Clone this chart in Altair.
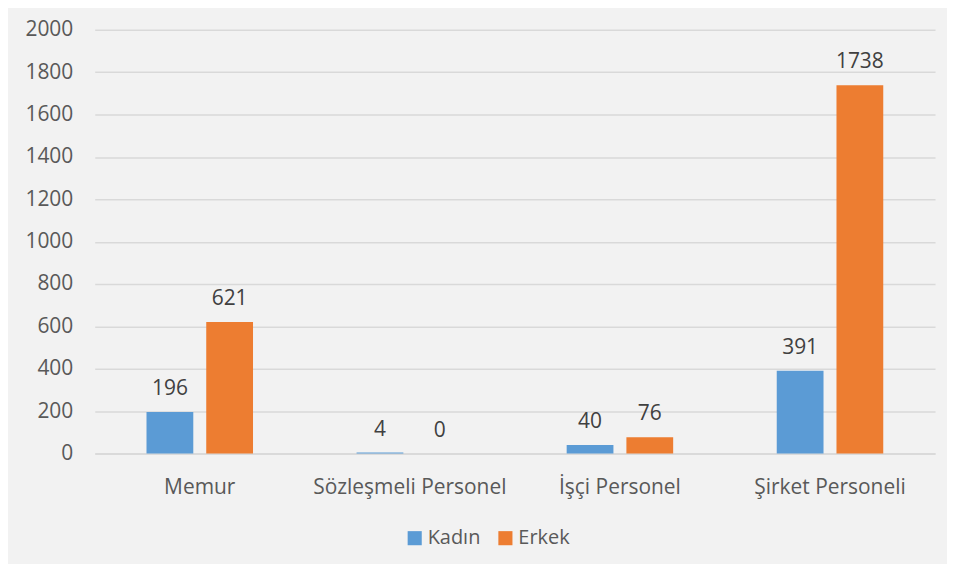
import altair as alt
import pandas as pd

categories = ["Memur", "Sözleşmeli Personel", "İşçi Personel", "Şirket Personeli"]
series = ["Kadın", "Erkek"]
kadin = [196, 4, 40, 391]
erkek = [621, 0, 76, 1738]
colors = ["#5B9BD5", "#ED7D31"]
y_ticks = list(range(0, 2001, 200))

rows = []
for c, k, e in zip(categories, kadin, erkek):
    rows.append({"cat": c, "series": "Kadın", "value": k})
    rows.append({"cat": c, "series": "Erkek", "value": e})
df = pd.DataFrame(rows)

FONT = "Open Sans"
FS = 21

x = alt.X("cat:N", sort=categories, title=None,
          scale=alt.Scale(paddingInner=0, paddingOuter=0),
          axis=alt.Axis(labelAngle=0, labelFontSize=FS, labelColor="#595959",
                        labelFont=FONT, ticks=False, domain=True, labelLimit=400,
                        domainColor="#D9D9D9", domainWidth=1.5, labelPadding=23,
                        grid=False))
xo = alt.XOffset("series:N", sort=series,
                 scale=alt.Scale(paddingInner=0.217, paddingOuter=0.867))
y = alt.Y("value:Q", title=None,
          scale=alt.Scale(domain=[0, 2000], nice=False),
          axis=alt.Axis(values=y_ticks, format="d", labelFontSize=FS, labelColor="#595959",
                        labelFont=FONT, ticks=False, domain=False,
                        gridColor="#D9D9D9", gridWidth=1.5, labelPadding=22))

base = alt.Chart(df)
bars = base.mark_bar().encode(
    x=x, xOffset=xo, y=y,
    color=alt.Color("series:N", sort=series,
                    scale=alt.Scale(domain=series, range=colors),
                    legend=alt.Legend(title=None, orient="none", direction="horizontal",
                                      legendX=311, legendY=500,
                                      labelFontSize=20, labelFont=FONT,
                                      labelColor="#595959", symbolType="square",
                                      symbolSize=200, symbolStrokeWidth=0,
                                      columnPadding=15, labelOffset=3)),
)
labels = base.mark_text(baseline="bottom", dy=-13, fontSize=FS, font=FONT,
                        color="#404040").encode(
    x=x, xOffset=xo, y=y, text="value:Q")

chart = (bars + labels).properties(
    width=843, height=425,
    background="#F2F2F2",
    padding={"left": 87, "top": 21, "right": 12, "bottom": 110},
    autosize=alt.AutoSizeParams(type="none"),
).configure_view(stroke=None)

chart.save("out.html", embed_options={"renderer": "svg", "actions": False})
